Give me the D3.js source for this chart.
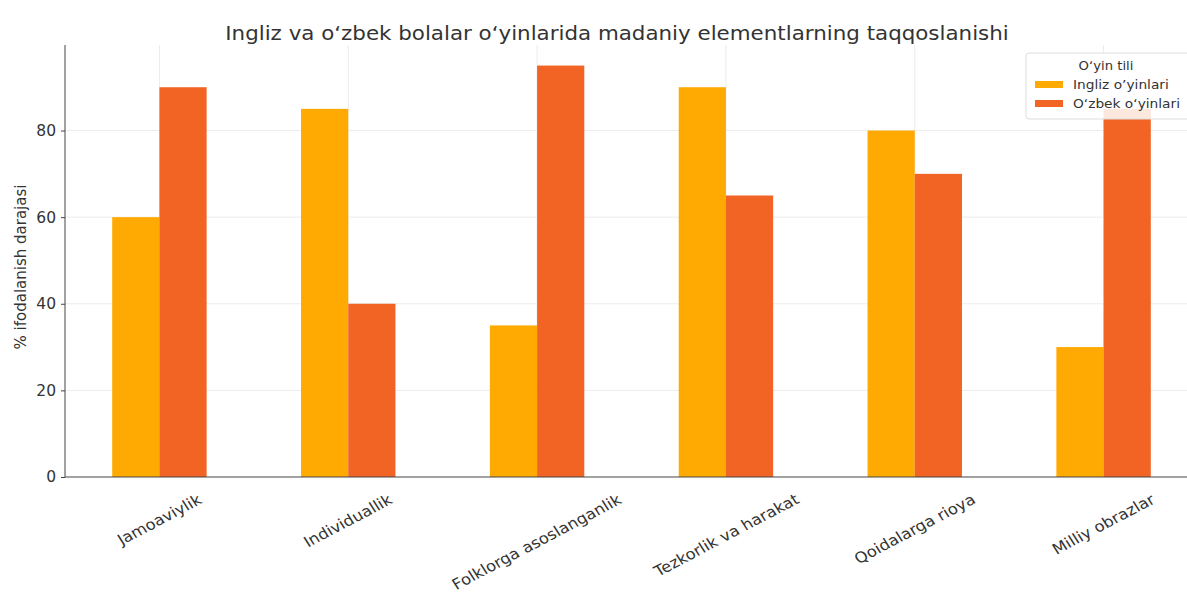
<!DOCTYPE html>
<html>
<head>
<meta charset="utf-8">
<script src="https://cdn.jsdelivr.net/npm/d3@7"></script>
<style>
  body { margin: 0; background: #fff; }
  svg { font-family: "DejaVu Sans", sans-serif; }
</style>
</head>
<body>
<svg id="chart" width="1187" height="609"></svg>
<script>
// data
const categories = ["Jamoaviylik", "Individuallik", "Folklorga asoslanganlik", "Tezkorlik va harakat", "Qoidalarga rioya", "Milliy obrazlar"];
const seriesNames = ["Ingliz o\u2019yinlari", "O\u2018zbek o\u2018yinlari"];
const inglizValues = [60, 85, 35, 90, 80, 30];
const ozbekValues = [90, 40, 95, 65, 70, 85];
const yTicks = [0, 20, 40, 60, 80];
const colors = ["#FFA903", "#F26423"];

const svg = d3.select("#chart");
const margin = { left: 65, top: 45, right: -11, bottom: 132 };
const W = 1187, H = 609;
const x0 = margin.left, x1 = W - margin.right;
const yBottom = H - margin.bottom;
const sx = 1.1; // the picture's text is a little wider than DejaVu

const x = d3.scaleBand().domain(categories).range([x0, x1]).padding(0);
const y = d3.scaleLinear().domain([0, 99.75]).range([yBottom, margin.top]);
const inner = d3.scaleBand().domain(seriesNames).range([0, x.bandwidth()]).paddingInner(0).paddingOuter(1);

// grid
const grid = svg.append("g");
grid.selectAll(".hg").data(yTicks.slice(1)).enter().append("line")
  .attr("x1", x0).attr("x2", x1)
  .attr("y1", d => y(d)).attr("y2", d => y(d))
  .attr("stroke", "#ececec").attr("stroke-width", 1);
grid.selectAll(".vg").data(categories).enter().append("line")
  .attr("x1", d => x(d) + x.bandwidth() / 2).attr("x2", d => x(d) + x.bandwidth() / 2)
  .attr("y1", margin.top).attr("y2", yBottom)
  .attr("stroke", "#ececec").attr("stroke-width", 1);

// bars
const series = [inglizValues, ozbekValues];
series.forEach((vals, si) => {
  svg.append("g").selectAll("rect").data(categories).enter().append("rect")
    .attr("x", d => x(d) + inner(seriesNames[si]))
    .attr("width", inner.bandwidth())
    .attr("y", (d, i) => y(vals[i]))
    .attr("height", (d, i) => yBottom - y(vals[i]))
    .attr("fill", colors[si]);
});

// y axis
const yAxis = svg.append("g").attr("transform", `translate(${x0},0)`)
  .call(d3.axisLeft(y).tickValues(yTicks).tickSize(4).tickPadding(5));
yAxis.select(".domain").attr("stroke", "#444").attr("d", `M0,${margin.top}V${yBottom}`);
yAxis.selectAll(".tick line").attr("stroke", "#444");
yAxis.selectAll("text").attr("font-size", 15.5).attr("fill", "#333").attr("font-family", "DejaVu Sans");

// x axis
const xAxis = svg.append("g").attr("transform", `translate(0,${yBottom})`)
  .call(d3.axisBottom(x).tickSize(0).tickFormat(""));
xAxis.select(".domain").attr("stroke", "#444").attr("d", `M${x0},0H${x1}`);

// rotated category labels, centred under the group, top edge just below the axis
const labels = svg.append("g");
categories.forEach(c => {
  const cx = x(c) + x.bandwidth() / 2;
  const t = labels.append("text")
    .attr("font-size", 15).attr("fill", "#333")
    .attr("text-anchor", "middle").attr("dy", "0.35em")
    .text(c);
  t.attr("transform", `translate(${cx},${yBottom + 50}) scale(${sx},1) rotate(-30)`);
  const r = t.node().getBoundingClientRect();
  const dx = cx - (r.left + r.width / 2);
  const dy = (yBottom + 13) - r.top;
  t.attr("transform", `translate(${cx + dx},${yBottom + 50 + dy}) scale(${sx},1) rotate(-30)`);
});

// y label
svg.append("text")
  .attr("transform", `translate(21,${(margin.top + yBottom) / 2 + 6}) rotate(-90)`)
  .attr("text-anchor", "middle").attr("dy", "0.35em")
  .attr("font-size", 15).attr("fill", "#333")
  .text("% ifodalanish darajasi");

// title
svg.append("text")
  .attr("transform", `translate(617,33) scale(1.07,1)`)
  .attr("text-anchor", "middle").attr("dy", "0.35em")
  .attr("font-size", 20).attr("fill", "#333")
  .text("Ingliz va o\u2018zbek bolalar o\u2018yinlarida madaniy elementlarning taqqoslanishi");

// legend
const lg = svg.append("g").attr("transform", "translate(1026,53)");
lg.append("rect").attr("width", 175).attr("height", 66)
  .attr("fill", "#fff").attr("fill-opacity", 0.85)
  .attr("stroke", "#ddd").attr("rx", 3);
lg.append("text").attr("transform", `translate(80,13) scale(${sx},1)`).attr("text-anchor", "middle")
  .attr("dy", "0.35em").attr("font-size", 12).attr("fill", "#333").text("O\u2018yin tili");
seriesNames.forEach((s, i) => {
  lg.append("rect").attr("x", 9).attr("y", 28 + i * 19).attr("width", 28).attr("height", 7).attr("fill", colors[i]);
  lg.append("text").attr("transform", `translate(47,${32 + i * 19}) scale(${sx},1)`).attr("dy", "0.35em")
    .attr("font-size", 12.5).attr("fill", "#333").text(s);
});
</script>
</body>
</html>
